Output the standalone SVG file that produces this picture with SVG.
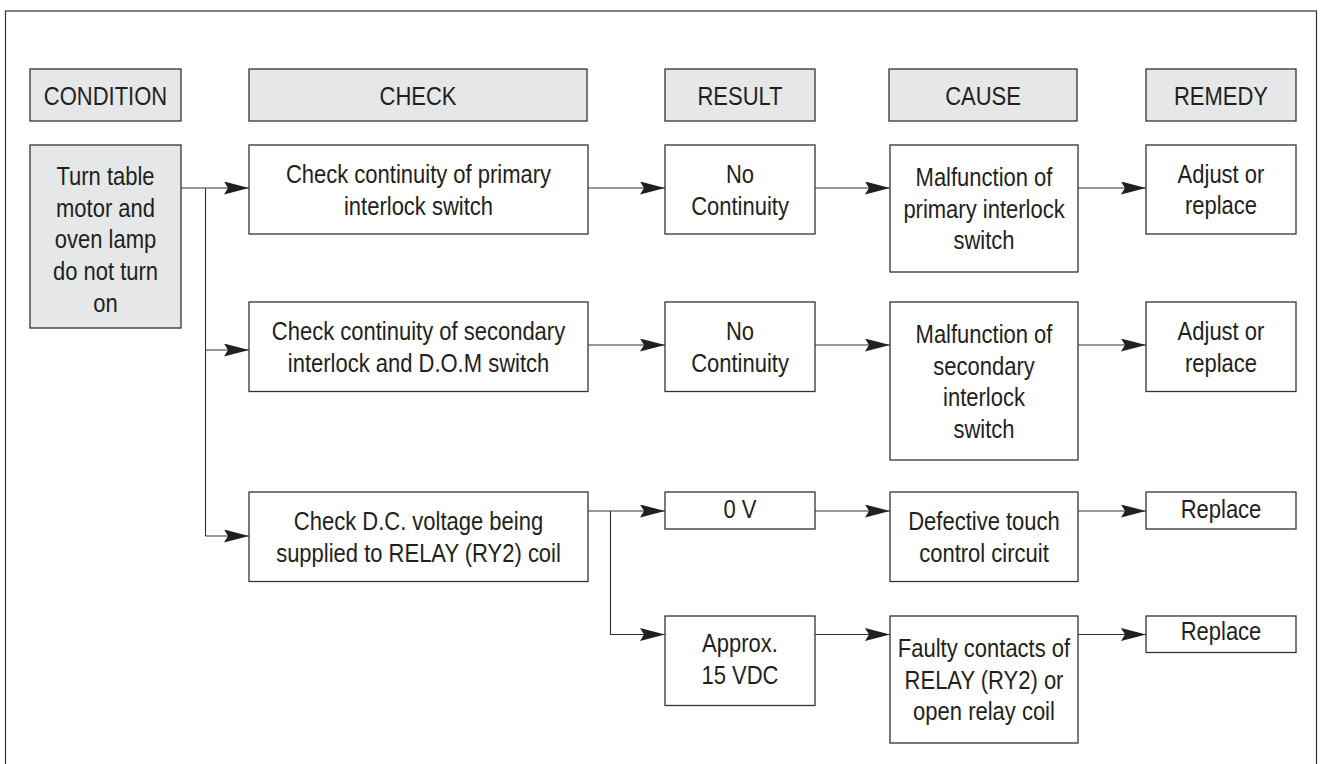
<svg xmlns="http://www.w3.org/2000/svg" width="1320" height="764" viewBox="0 0 1320 764">
<style>
.bx{fill:#fff;stroke:#333;stroke-width:1.3}
.hd{fill:#e6e7e8;stroke:#333;stroke-width:1.3}
.t{font-family:"Liberation Sans",Arial,sans-serif;font-size:25px;fill:#231f20;text-anchor:middle}
.ln{fill:none;stroke:#333;stroke-width:1.1}
</style>
<defs>
<marker id="ah" markerUnits="userSpaceOnUse" markerWidth="26" markerHeight="14" refX="25" refY="6.5" orient="auto" viewBox="0 0 26 14">
<path d="M0,0 L25,6.5 L0,13 L4,6.5 Z" fill="#231f20"/>
</marker>
</defs>
<rect x="5.5" y="11" width="1311" height="770" fill="#fff" stroke="#333" stroke-width="1.2"/>

<g id="headers">
<g id="h-condition"><rect class="hd" x="30" y="69" width="151" height="52"/><text class="t" transform="translate(105.5,0) scale(0.88,1)"><tspan x="0" y="105">CONDITION</tspan></text></g>
<g id="h-check"><rect class="hd" x="249" y="69" width="338" height="52"/><text class="t" transform="translate(418,0) scale(0.88,1)"><tspan x="0" y="105">CHECK</tspan></text></g>
<g id="h-result"><rect class="hd" x="665" y="69" width="150" height="52"/><text class="t" transform="translate(740,0) scale(0.88,1)"><tspan x="0" y="105">RESULT</tspan></text></g>
<g id="h-cause"><rect class="hd" x="889" y="69" width="188" height="52"/><text class="t" transform="translate(983,0) scale(0.88,1)"><tspan x="0" y="105">CAUSE</tspan></text></g>
<g id="h-remedy"><rect class="hd" x="1146" y="69" width="150" height="52"/><text class="t" transform="translate(1221,0) scale(0.88,1)"><tspan x="0" y="105">REMEDY</tspan></text></g>
</g>

<g id="condition"><rect class="hd" x="30" y="145" width="151" height="183"/><text class="t" transform="translate(105.5,0) scale(0.88,1)"><tspan x="0" y="185">Turn table</tspan><tspan x="0" y="216.7">motor and</tspan><tspan x="0" y="248.4">oven lamp</tspan><tspan x="0" y="280.1">do not turn</tspan><tspan x="0" y="311.8">on</tspan></text></g>

<g id="check1"><rect class="bx" x="249" y="145" width="339" height="89"/><text class="t" transform="translate(418.5,0) scale(0.88,1)"><tspan x="0" y="183.5">Check continuity of primary</tspan><tspan x="0" y="215">interlock switch</tspan></text></g>
<g id="check2"><rect class="bx" x="249" y="302" width="339" height="89.5"/><text class="t" transform="translate(418.5,0) scale(0.88,1)"><tspan x="0" y="340.5">Check continuity of secondary</tspan><tspan x="0" y="372">interlock and D.O.M switch</tspan></text></g>
<g id="check3"><rect class="bx" x="249" y="492" width="339" height="89.5"/><text class="t" transform="translate(418.5,0) scale(0.88,1)"><tspan x="0" y="530.5">Check D.C. voltage being</tspan><tspan x="0" y="562">supplied to RELAY (RY2) coil</tspan></text></g>

<g id="result1"><rect class="bx" x="665" y="145" width="150" height="89"/><text class="t" transform="translate(740,0) scale(0.88,1)"><tspan x="0" y="183.5">No</tspan><tspan x="0" y="215">Continuity</tspan></text></g>
<g id="result2"><rect class="bx" x="665" y="302" width="150" height="89.5"/><text class="t" transform="translate(740,0) scale(0.88,1)"><tspan x="0" y="340.5">No</tspan><tspan x="0" y="372">Continuity</tspan></text></g>
<g id="result3"><rect class="bx" x="665" y="492" width="150" height="37"/><text class="t" transform="translate(740,0) scale(0.88,1)"><tspan x="0" y="518.5">0 V</tspan></text></g>
<g id="result4"><rect class="bx" x="665" y="616" width="150" height="89.5"/><text class="t" transform="translate(740,0) scale(0.88,1)"><tspan x="0" y="652.5">Approx.</tspan><tspan x="0" y="684">15 VDC</tspan></text></g>

<g id="cause1"><rect class="bx" x="890" y="145" width="188" height="127"/><text class="t" transform="translate(984,0) scale(0.88,1)"><tspan x="0" y="186">Malfunction of</tspan><tspan x="0" y="217.7">primary interlock</tspan><tspan x="0" y="249.4">switch</tspan></text></g>
<g id="cause2"><rect class="bx" x="890" y="302" width="188" height="158"/><text class="t" transform="translate(984,0) scale(0.88,1)"><tspan x="0" y="343">Malfunction of</tspan><tspan x="0" y="374.7">secondary</tspan><tspan x="0" y="406.4">interlock</tspan><tspan x="0" y="438.1">switch</tspan></text></g>
<g id="cause3"><rect class="bx" x="890" y="492" width="188" height="89.5"/><text class="t" transform="translate(984,0) scale(0.88,1)"><tspan x="0" y="530.5">Defective touch</tspan><tspan x="0" y="562">control circuit</tspan></text></g>
<g id="cause4"><rect class="bx" x="890" y="616" width="188" height="127"/><text class="t" transform="translate(984,0) scale(0.88,1)"><tspan x="0" y="657">Faulty contacts of</tspan><tspan x="0" y="688.7">RELAY (RY2) or</tspan><tspan x="0" y="720.4">open relay coil</tspan></text></g>

<g id="remedy1"><rect class="bx" x="1146" y="145" width="150" height="89"/><text class="t" transform="translate(1221,0) scale(0.88,1)"><tspan x="0" y="183">Adjust or</tspan><tspan x="0" y="214.5">replace</tspan></text></g>
<g id="remedy2"><rect class="bx" x="1146" y="302" width="150" height="89.5"/><text class="t" transform="translate(1221,0) scale(0.88,1)"><tspan x="0" y="340.5">Adjust or</tspan><tspan x="0" y="372">replace</tspan></text></g>
<g id="remedy3"><rect class="bx" x="1146" y="492" width="150" height="37"/><text class="t" transform="translate(1221,0) scale(0.88,1)"><tspan x="0" y="518">Replace</tspan></text></g>
<g id="remedy4"><rect class="bx" x="1146" y="616" width="150" height="36.5"/><text class="t" transform="translate(1221,0) scale(0.88,1)"><tspan x="0" y="640.5">Replace</tspan></text></g>

<g id="connectors">
<path class="ln" d="M181,188 H249" marker-end="url(#ah)"/>
<path class="ln" d="M205.5,188 V536"/>
<path class="ln" d="M205.5,350 H249" marker-end="url(#ah)"/>
<path class="ln" d="M205.5,536 H249" marker-end="url(#ah)"/>
<path class="ln" d="M588,188 H665" marker-end="url(#ah)"/>
<path class="ln" d="M815,188 H890" marker-end="url(#ah)"/>
<path class="ln" d="M1078,188 H1146" marker-end="url(#ah)"/>
<path class="ln" d="M588,345 H665" marker-end="url(#ah)"/>
<path class="ln" d="M815,345 H890" marker-end="url(#ah)"/>
<path class="ln" d="M1078,345 H1146" marker-end="url(#ah)"/>
<path class="ln" d="M588,511 H665" marker-end="url(#ah)"/>
<path class="ln" d="M610.5,511 V634.5 H665" marker-end="url(#ah)"/>
<path class="ln" d="M815,511 H890" marker-end="url(#ah)"/>
<path class="ln" d="M1078,511 H1146" marker-end="url(#ah)"/>
<path class="ln" d="M815,634.5 H890" marker-end="url(#ah)"/>
<path class="ln" d="M1078,634.5 H1146" marker-end="url(#ah)"/>
</g>
</svg>
